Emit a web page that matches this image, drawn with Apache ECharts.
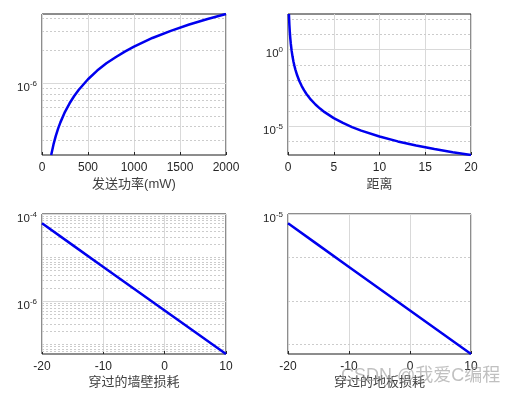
<!DOCTYPE html>
<html>
  <head>
    <meta charset="utf-8" />
    <script src="https://cdn.jsdelivr.net/npm/echarts@6/dist/echarts.min.js"></script>
    <style>
      html, body { margin: 0; padding: 0; background: #fff; }
    </style>
  </head>
  <body>
    <div id="chart" style="width: 514px; height: 397px;"></div>
    <script>
        // Data
        var powerX = [100, 125, 150, 175, 200, 250, 300, 350, 400, 500, 600, 700, 800, 900, 1000, 1200, 1400, 1600, 1800, 2000];
        var powerY = [2.18e-7, 2.73e-7, 3.27e-7, 3.82e-7, 4.36e-7, 5.45e-7, 6.54e-7, 7.63e-7, 8.72e-7, 1.09e-6, 1.31e-6, 1.53e-6, 1.74e-6, 1.96e-6, 2.18e-6, 2.62e-6, 3.05e-6, 3.49e-6, 3.92e-6, 4.36e-6];

        var distX = [0.1, 0.15, 0.2, 0.25, 0.3, 0.4, 0.5, 0.6, 0.7, 0.8, 1, 1.25, 1.5, 1.75, 2, 2.5, 3, 3.5, 4, 5, 6, 7, 8, 10, 12, 14, 16, 18, 20];
        var distY = [210, 41.5, 13.1, 5.38, 2.59, 0.82, 0.336, 0.162, 0.0875, 0.0513, 0.021, 0.0086, 0.00415, 0.00224, 0.00131, 5.38e-4, 2.59e-4, 1.40e-4, 8.2e-5, 3.36e-5, 1.62e-5, 8.75e-6, 5.13e-6, 2.1e-6, 1.01e-6, 5.47e-7, 3.2e-7, 2.0e-7, 1.31e-7];

        var lossX = [-20, -15, -10, -5, 0, 5, 10];
        var wallY = [6.1e-5, 1.93e-5, 6.1e-6, 1.93e-6, 6.1e-7, 1.93e-7, 6.1e-8];
        var floorY = [6.1e-6, 1.93e-6, 6.1e-7, 1.93e-7, 6.1e-8, 1.93e-8, 6.1e-9];

        // axis names and labelled y ticks (exponents of 10)
        var xNames = ['发送功率(mW)', '距离', '穿过的墙壁损耗', '穿过的地板损耗'];
        var yMajor = [[-6], [0, -5], [-4, -6], [-5]];
        // true: dotted lines at 2..9 x 10^n, false: dotted lines only at decades
        var yMinorFine = [true, false, true, false];

        var xs = [powerX, distX, lossX, lossX];
        var ys = [powerY, distY, wallY, floorY];
        var yMax = [4.36e-6, 210, 1e-4, 1e-5];
        var yMin = [2.18e-7, 1.31e-7, 6.1e-8, 6.1e-9];

        var font = 'Liberation Sans, Arial, Noto Sans CJK SC, sans-serif';
        var grids = [
            { left: 42, top: 14, width: 184, height: 141 },
            { left: 288, top: 14, width: 183, height: 141 },
            { left: 42, top: 214, width: 184, height: 140 },
            { left: 288, top: 214, width: 183, height: 140 }
        ];
        var xRanges = [[0, 2000, 500], [0, 20, 5], [-20, 10, 10], [-20, 10, 10]];

        function gridLines(i) {
            var lines = [];
            var lo = yMin[i] * 0.9999, hi = yMax[i] * 1.0001;
            for (var n = -10; n <= 3; n++) {
                var isMajor = yMajor[i].indexOf(n) >= 0;
                var ks = yMinorFine[i] ? [1, 2, 3, 4, 5, 6, 7, 8, 9] : [1];
                ks.forEach(function (k) {
                    var v = k * Math.pow(10, n);
                    if (v < lo || v > hi) return;
                    if (k === 1 && isMajor) {
                        lines.push({
                            yAxis: v,
                            lineStyle: { color: '#d9d9d9', type: 'solid', width: 1 },
                            label: {
                                show: true,
                                position: 'start',
                                distance: 5,
                                padding: [9, 0, 0, 0],
                                formatter: '{b|10}{s|' + n + '}',
                                rich: {
                                    b: { fontSize: 11.5, color: '#262626', fontFamily: font },
                                    s: { fontSize: 8, color: '#262626', fontFamily: font, padding: [0, 0, 8, 0] }
                                }
                            }
                        });
                    } else {
                        lines.push({
                            yAxis: v,
                            lineStyle: { color: '#cccccc', type: [2, 2], width: 1 },
                            label: { show: false }
                        });
                    }
                });
            }
            return lines;
        }

        var chart = echarts.init(document.getElementById('chart'), null, { renderer: 'canvas' });

        var option = {
            animation: false,
            backgroundColor: '#ffffff',
            grid: grids.map(function (g) {
                return Object.assign({ show: true, borderColor: '#1a1a1a', borderWidth: 1, backgroundColor: 'transparent' }, g);
            }),
            xAxis: xRanges.map(function (r, i) {
                return {
                    type: 'value',
                    gridIndex: i,
                    min: r[0],
                    max: r[1],
                    interval: r[2],
                    name: xNames[i],
                    nameLocation: 'middle',
                    nameGap: i < 2 ? 23 : 22,
                    nameTextStyle: { fontSize: 13, color: '#404040', fontFamily: font },
                    axisLine: { show: false },
                    axisTick: { show: true, inside: true, length: 3, lineStyle: { color: '#262626' } },
                    axisLabel: {
                        fontSize: 12, color: '#262626', fontFamily: font, margin: 7,
                        formatter: function (v) { return String(v); }
                    },
                    splitLine: { show: true, lineStyle: { color: '#d9d9d9', width: 1 } }
                };
            }),
            yAxis: yMin.map(function (m, i) {
                return {
                    type: 'log',
                    logBase: 10,
                    gridIndex: i,
                    min: m,
                    max: yMax[i],
                    axisLine: { show: false },
                    axisTick: { show: false },
                    axisLabel: { show: false },
                    splitLine: { show: false }
                };
            }),
            series: xs.map(function (xv, i) {
                return {
                    type: 'line',
                    xAxisIndex: i,
                    yAxisIndex: i,
                    data: xv.map(function (x, j) { return [x, ys[i][j]]; }),
                    showSymbol: false,
                    clip: true,
                    lineStyle: { color: '#0000ee', width: 2.5 },
                    itemStyle: { color: '#0000ee' },
                    z: 5,
                    markLine: {
                        silent: true,
                        precision: 15,
                        symbol: ['none', 'none'],
                        animation: false,
                        z: 1,
                        data: gridLines(i)
                    }
                };
            }),
            graphic: [{
                type: 'text',
                left: 341,
                top: 367,
                z: 100,
                style: {
                    text: 'CSDN @我爱C编程',
                    fontSize: 18,
                    fontFamily: font,
                    fill: 'rgba(150,150,150,0.6)'
                }
            }]
        };

        chart.setOption(option);
    </script>
  </body>
</html>
